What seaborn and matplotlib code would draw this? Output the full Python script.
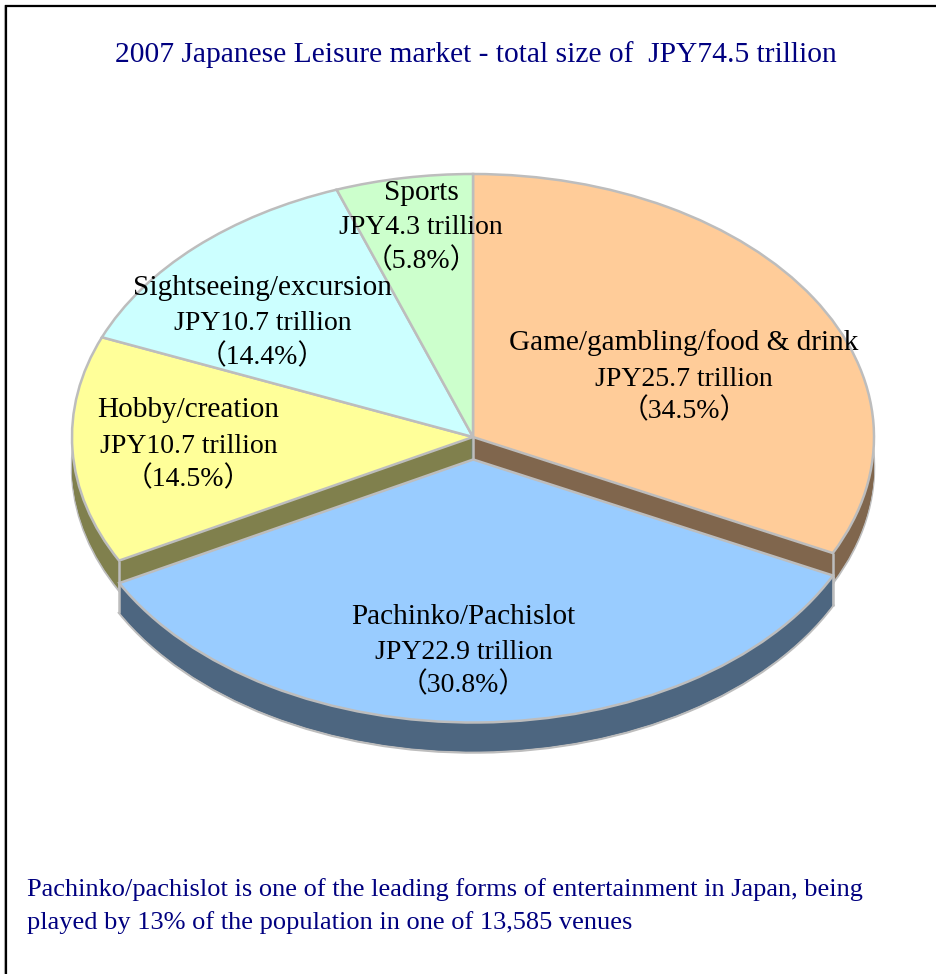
import matplotlib
matplotlib.use("Agg")
import matplotlib.pyplot as plt
from matplotlib.lines import Line2D
from matplotlib.transforms import Affine2D
import numpy as np
import seaborn as sns

# Market segments, clockwise from twelve o'clock
segments = ["Game/gambling/food & drink", "Pachinko/Pachislot", "Hobby/creation",
            "Sightseeing/excursion", "Sports"]
trillions = ["25.7", "22.9", "10.7", "10.7", "4.3"]
shares = [34.5, 30.8, 14.5, 14.4, 5.8]
top_colors = ["#FFCC99", "#99CCFF", "#FFFF99", "#CCFFFF", "#CCFFCC"]

title = "2007 Japanese Leisure market - total size of  JPY74.5 trillion"
footnote = ["Pachinko/pachislot is one of the leading forms of entertainment in Japan, being",
            "played by 13% of the population in one of 13,585 venues"]

# Label anchor per segment: centre x, then the three baselines (pixels from top left)
label_x = [684, 463.5, 188.5, 262.5, 421]
label_baselines = [(350, 386, 418), (624, 659, 692), (417, 453, 486),
                   (295, 330, 364), (200, 234, 268)]

W, H = 937, 974
CX, CY = 473, 437        # pie centre
RX, RY = 401, 263        # tilted disc radii
DEPTH = 30               # height of the disc wall
EXPLODE = 22.5           # downward pull of the pachinko slice
FOCUS = 1                # index of the pulled-out slice
EDGE = "#BDBDBD"
EDGE_LW = 1.8
NAVY = "#000080"

sns.set_theme(style="white")
plt.rcParams["font.family"] = ["Liberation Serif", "Noto Sans CJK JP"]

palette = sns.color_palette(top_colors)
wall_colors = [tuple(np.array(c) * 0.5) for c in palette]

fig = plt.figure(figsize=(W / 100, H / 100), dpi=100, facecolor="white")
ax = fig.add_axes([0, 0, 1, 1])
px = Affine2D().scale(1 / W, -1 / H).translate(0, 1) + fig.transFigure


def foreshorten(theta):
    """Shift wedge angles the way a tilted 3-D pie spreads its front slices."""
    phi = np.radians(90 - theta)
    shift = -6.72 * np.sin(phi) + 2.05 * np.sin(2 * phi) - 0.35 * (1 - np.cos(phi))
    return theta - shift


def layer(offset, colors, keep, edgecolor, lw, zorder):
    wedges, _ = ax.pie(shares, colors=colors, startangle=90, counterclock=False,
                       center=(0, -offset / RY),
                       explode=[EXPLODE / RY if i == FOCUS else 0 for i in range(len(shares))],
                       wedgeprops=dict(edgecolor=edgecolor, linewidth=lw))
    for i, w in enumerate(wedges):
        w.set_theta1(foreshorten(w.theta1))
        w.set_theta2(foreshorten(w.theta2))
        w.set_zorder(zorder)
        if not keep(i):
            w.remove()
    return wedges


def drop_line(x, y, zorder):
    ax.plot([x, x], [y, y - DEPTH / RY], color=EDGE, lw=EDGE_LW, zorder=zorder,
            solid_capstyle="butt")


def rim_point(wedge, angle):
    cx, cy = wedge.center
    return cx + np.cos(np.radians(angle)), cy + np.sin(np.radians(angle))


is_back = lambda i: i != FOCUS
is_front = lambda i: i == FOCUS

# Rear slices: wall stack, then top faces, then wall edges
layer(DEPTH, wall_colors, is_back, EDGE, EDGE_LW, 1.0)
for d in range(DEPTH - 1, 0, -1):
    layer(d, wall_colors, is_back, "none", 0, 1.1)
back_tops = layer(0, palette, is_back, EDGE, EDGE_LW, 2.0)
orange, hobby = back_tops[0], back_tops[2]
drop_line(0, 0, 3.0)
drop_line(*rim_point(orange, min(orange.theta1, orange.theta2)), 3.0)
drop_line(*rim_point(hobby, max(hobby.theta1, hobby.theta2)), 3.0)

# Pulled-out slice sits in front of everything else
layer(DEPTH, wall_colors, is_front, EDGE, EDGE_LW, 4.0)
for d in range(DEPTH - 1, 0, -1):
    layer(d, wall_colors, is_front, "none", 0, 4.1)
front_top = layer(0, palette, is_front, EDGE, EDGE_LW, 5.0)[FOCUS]
for ang in (front_top.theta1, front_top.theta2):
    drop_line(*rim_point(front_top, ang), 4.5)

ax.set_xlim(-CX / RX, (W - CX) / RX)
ax.set_ylim(-(H - CY) / RY, CY / RY)
ax.set_aspect("auto")
ax.set_position([0, 0, 1, 1])
ax.axis("off")

# Slice labels
for name, tril, share, x, ys in zip(segments, trillions, shares, label_x, label_baselines):
    lines = [(name, 21.05), (f"JPY{tril} trillion", 20), (f"（{share}%）", 20)]
    for (line, size), y in zip(lines, ys):
        ax.text(x, y, line, transform=px, ha="center", va="baseline",
                fontsize=size, color="black", zorder=10)

ax.text(476, 62, title, transform=px, ha="center", va="baseline", fontsize=21.25, color=NAVY, zorder=10)
ax.text(27, 896, footnote[0], transform=px, ha="left", va="baseline", fontsize=19, color=NAVY, zorder=10)
ax.text(27, 929, footnote[1], transform=px, ha="left", va="baseline", fontsize=19, color=NAVY, zorder=10)

# Outer frame runs off the right and bottom of the canvas
for xs, ys, col, lw in [([4.5, 4.5], [4.5, H], "#BDBDBD", 0.8), ([4.5, W], [4.5, 4.5], "#BDBDBD", 0.8),
                        ([6, 6], [5, H], "black", 1.6), ([5, W], [6, 6], "black", 1.6)]:
    fig.add_artist(Line2D(xs, ys, transform=px, color=col, lw=lw, solid_capstyle="butt"))

fig.savefig("out.png", dpi=100, facecolor="white")
